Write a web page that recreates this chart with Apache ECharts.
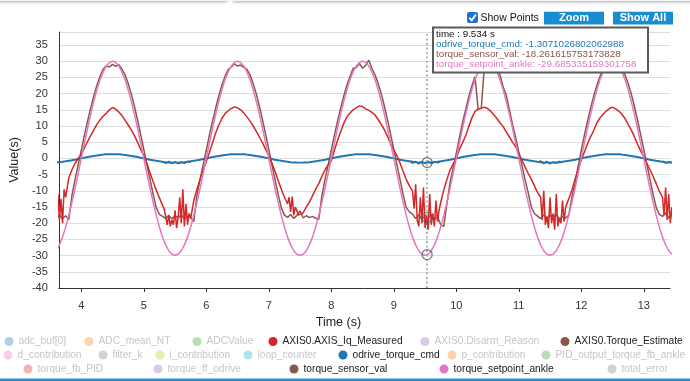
<!DOCTYPE html>
<html><head><meta charset="utf-8">
<script src="https://cdn.jsdelivr.net/npm/echarts/dist/echarts.min.js"></script>
<style>html,body{margin:0;padding:0;background:#fff}#c{width:690px;height:381px}</style>
</head><body><div id="c"></div><script>
// ---- data ----
const time = [3.6,3.65,3.7,3.75,3.8,3.85,3.9,3.95,
4,4.05,4.1,4.15,4.2,4.25,4.3,4.35,4.4,4.45,4.5,4.55,4.6,4.65,4.7,4.75,4.8,4.85,4.9,4.95,
5,5.05,5.1,5.15,5.2,5.25,5.3,5.35,5.4,5.45,5.5,5.55,5.6,5.65,5.7,5.75,5.8,5.85,5.9,5.95,
6,6.05,6.1,6.15,6.2,6.25,6.3,6.35,6.4,6.45,6.5,6.55,6.6,6.65,6.7,6.75,6.8,6.85,6.9,6.95,
7,7.05,7.1,7.15,7.2,7.25,7.3,7.35,7.4,7.45,7.5,7.55,7.6,7.65,7.7,7.75,7.8,7.85,7.9,7.95,
8,8.05,8.1,8.15,8.2,8.25,8.3,8.35,8.4,8.45,8.5,8.55,8.6,8.65,8.7,8.75,8.8,8.85,8.9,8.95,
9,9.05,9.1,9.15,9.2,9.25,9.3,9.35,9.4,9.45,9.5,9.55,9.6,9.65,9.7,9.75,9.8,9.85,9.9,9.95,
10,10.05,10.1,10.15,10.2,10.25,10.3,10.35,10.4,10.45,10.5,10.55,10.6,10.65,10.7,10.75,10.8,10.85,10.9,10.95,
11,11.05,11.1,11.15,11.2,11.25,11.3,11.35,11.4,11.45,11.5,11.55,11.6,11.65,11.7,11.75,11.8,11.85,11.9,11.95,
12,12.05,12.1,12.15,12.2,12.25,12.3,12.35,12.4,12.45,12.5,12.55,12.6,12.65,12.7,12.75,12.8,12.85,12.9,12.95,
13,13.05,13.1,13.15,13.2,13.25,13.3,13.35,13.4,13.45];

// AXIS0.AXIS_Iq_Measured has its own, denser sampling in the noisy troughs
const iqTime = [3.6,3.625,3.65,3.675,3.7,3.725,3.75,3.8,3.85,3.9,3.95,
4,4.05,4.1,4.15,4.2,4.25,4.3,4.35,4.4,4.45,4.5,4.55,4.6,4.65,4.7,4.75,4.8,4.85,4.9,4.95,5,5.05,5.1,5.15,5.2,5.25,5.3,
5.325,5.35,5.375,5.4,5.425,5.45,5.475,5.5,5.525,5.55,5.575,5.6,5.625,5.65,5.675,5.7,5.725,5.75,
5.8,5.85,5.9,5.95,
6,6.05,6.1,6.15,6.2,6.25,6.3,6.35,6.4,6.45,6.5,6.55,6.6,6.65,6.7,6.75,6.8,6.85,6.9,6.95,7,7.05,7.1,7.15,7.2,7.25,
7.3,7.325,7.35,7.375,7.4,7.425,7.45,7.475,7.5,
7.55,7.6,7.65,7.7,7.75,7.8,7.85,7.9,7.95,
8,8.05,8.1,8.15,8.2,8.25,8.3,8.35,8.4,8.45,8.5,8.55,8.6,8.65,8.7,8.75,8.8,8.85,8.9,8.95,9,9.05,9.1,9.15,9.2,9.25,9.3,
9.325,9.35,9.375,9.4,9.425,9.45,9.475,9.5,9.525,9.55,9.575,9.6,9.625,9.65,9.675,9.7,9.725,
9.75,9.8,9.85,9.9,9.95,
10,10.05,10.1,10.15,10.2,10.25,10.3,10.35,10.4,10.45,10.5,10.55,10.6,10.65,10.7,10.75,10.8,10.85,10.9,10.95,11,11.05,11.1,11.15,11.2,11.25,11.3,11.35,
11.375,11.4,11.425,11.45,11.475,11.5,11.525,11.55,11.575,11.6,11.625,11.65,11.675,11.7,11.725,
11.75,11.8,11.85,11.9,11.95,
12,12.05,12.1,12.15,12.2,12.25,12.3,12.35,12.4,12.45,12.5,12.55,12.6,12.65,12.7,12.75,12.8,12.85,12.9,12.95,13,13.05,13.1,13.15,13.2,13.25,13.3,
13.325,13.35,13.375,13.4,13.425,13.45];
const iqMeasured = [-18,-11,-19,-12.5,-20,-9.5,-12,-6,-3.5,-1.5,0,
1.2,3.2,5.2,7,8.8,10.5,11.9,13,13.9,15,15.7,15.2,14.3,13.2,11.8,10.3,8.8,7,5,2.8,0.8,-1.6,-4.5,-7.2,-9.8,-12.2,-14.5,
-15.5,-18,-20.5,-17.5,-21,-19,-20.5,-16,-21.5,-18,-12,-20,-9.5,-21,-14,-20.5,-17,-18.5,
-13,-9.5,-6.5,-3.5,
-1,1.8,4.8,7.8,10.3,12.3,13.8,14.7,15.4,15.9,15.6,15,14,12.8,11.5,10,8.3,6.6,4.8,2.8,0.8,-1.5,-4,-6.8,-9.5,-12,
-14,-12,-16.5,-11.8,-17.5,-15,-16.2,-17.5,-17.3,
-16.8,-15,-13.5,-11.5,-9.5,-7.8,-5.5,-3.5,-2,
-0.8,2.5,5.5,8.2,10.8,12.8,14,15,15.6,16.2,16,15.3,14.8,14.2,13.4,12,10.5,8.8,6.8,4.5,2.6,0.8,-1.4,-4,-6.5,-8.5,-10,
-15.5,-8,-19,-21,-12,-20,-9,-21.5,-18,-22,-11,-20.5,-17,-21,-13,-19.5,-16,
-13.7,-9.8,-6.5,-3.6,-1.8,
0,2.8,4.8,7,9.8,12.5,14.5,15.2,15.5,15.8,15.4,14.6,13.5,12.3,11,9.8,8.2,6.6,5,3.6,1.5,-0.5,-2.6,-4.6,-6.4,-8.5,-10.5,-12,
-19,-10,-20.5,-18,-21.5,-12,-20,-17,-22,-11,-21,-18.5,-20,-13,-19.5,
-15,-12.5,-9.8,-6.5,-3.5,
-0.5,2,4.5,6.7,8.6,11,12.5,13.6,14.6,15.4,15.8,15.3,14.6,13.6,12.3,10.5,8.8,6.7,4.4,2.3,0.5,-1.5,-3.5,-5.6,-7.8,-10.2,-12,
-17.5,-9,-19,-11,-20,-15];

const sensorVal = [-18.4,-17.6,-18.5,-17.7,-18.9,-11.5,-6.5,-2,
2.5,7.2,11.5,15.5,19.3,22.6,25.3,27.6,28.6,28.2, 29,28.4,28.9,27.5,25.8,23.1,19.9,16.1,11.9,7.4, 2.8,-1.9,-6.5,-11.1,-15.2,-17.3,-17.9,-18.5,-17.6,-18.6, -17.8,-18.3,-17.5,-18.6,-17.8,-18.2,-19.5,-11.5,-6.5,-2,
2.5,7.2,11.5,15.5,19.3,22.6,25.3,27.4,28.2,29.2, 28.5,28.8,28.1,27.5,25.8,23.1,19.9,16.1,11.9,7.4, 2.8,-1.9,-6.5,-11.1,-15.2,-17.5,-18.2,-17.3,-18.5,-17.6, -16.2,-18.4,-17.7,-18.3,-17.9,-18.5,-18.8,-11.5,-6.5,-2,
2.5,7.2,11.5,15.5,19.3,22.6,25.3,27.8,28,29.3, 27.8,28.7,30.3,27.8,25.8,23.1,19.9,16.1,11.9,7.4, 2.8,-1.9,-6.5,-11.1,-15.2,-16.5,-17.2,-18.6,-17.4,-18.9, -17.6,-18.4,-17.2,-18.8,-18,-20.5,-21,-14,-7.5,-3,
1.5,6.5,11,15,19,22.4,25.2,15.2,15.4,28.6, 28.9,28.3,28.6,27.4,25.8,22,19.5,15,10.5,6.5, 2,-1.9,-6.5,-10.5,-15,-17,-17.8,-18.6,-17.4,-18.5, -17.6,-18.2,-17.3,-18.7,-17.9,-18.4,-17.6,-12,-7.5,-2.5,
2.5,7.2,11.5,15.5,19.3,22.6,25.3,27.5,28.5,28.9, 28.4,28.8,28.3,27.5,25.8,23.1,19.9,16.1,11.9,7.4, 2.8,-1.9,-6.5,-11.1,-15.2,-17.3,-17.9,-16.8,-18.4,-17.5];

const setpointAnkle = [-28.5,-26.7,-24.3,-21.2,-17.6,-13.6,-9.3,-4.7,
0,4.7,9.3,13.6,17.6,21.2,24.3,26.7,28.5,29.6,30,29.6,28.5,26.7,24.3,21.2,17.6,13.6,9.3,4.7,0,-4.7,-9.3,-13.6,-17.6,-21.2,-24.3,-26.7,-28.5,-29.6,-29.9,-29.6,-28.5,-26.7,-24.3,-21.2,-17.6,-13.6,-9.3,-4.7,
0,4.7,9.3,13.6,17.6,21.2,24.3,26.7,28.5,29.6,30,29.6,28.5,26.7,24.3,21.2,17.6,13.6,9.3,4.7,0,-4.7,-9.3,-13.6,-17.6,-21.2,-24.3,-26.7,-28.5,-29.6,-29.9,-29.6,-28.5,-26.7,-24.3,-21.2,-17.6,-13.6,-9.3,-4.7,
0,4.7,9.3,13.6,17.6,21.2,24.3,26.7,28.5,29.6,30,29.6,28.5,26.7,24.3,21.2,17.6,13.6,9.3,4.7,0,-4.7,-9.3,-13.6,-17.6,-21.2,-24.3,-26.7,-28.5,-29.6,-29.9,-29.6,-28.5,-26.7,-24.3,-21.2,-17.6,-13.6,-9.3,-4.7,
0,4.7,9.3,13.6,17.6,21.2,24.3,26.7,28.5,29.6,30,29.6,28.5,26.7,24.3,21.2,17.6,13.6,9.3,4.7,0,-4.7,-9.3,-13.6,-17.6,-21.2,-24.3,-26.7,-28.5,-29.6,-29.9,-29.6,-28.5,-26.7,-24.3,-21.2,-17.6,-13.6,-9.3,-4.7,
0,4.7,9.3,13.6,17.6,21.2,24.3,26.7,28.5,29.6,30,29.6,28.5,26.7,24.3,21.2,17.6,13.6,9.3,4.7,0,-4.7,-9.3,-13.6,-17.6,-21.2,-24.3,-26.7,-28.5,-29.6];

const torqueCmd = [-1.24,-1.16,-1.05,-0.92,-0.76,-0.59,-0.4,-0.2,
0,0.2,0.4,0.59,0.76,0.92,1.05,1.16,1.24,1.28,1.3,1.28,1.24,1.16,1.05,0.92,0.76,0.59,0.4,0.2,0,-0.2,-0.4,-0.59,-0.76,-0.92,-1.05,-1.16,-1.24,-1.28,-1.31,-1.28,-1.24,-1.16,-1.05,-0.92,-0.76,-0.59,-0.4,-0.2,
0,0.2,0.4,0.59,0.76,0.92,1.05,1.16,1.24,1.28,1.3,1.28,1.24,1.16,1.05,0.92,0.76,0.59,0.4,0.2,0,-0.2,-0.4,-0.59,-0.76,-0.92,-1.05,-1.16,-1.24,-1.28,-1.31,-1.28,-1.24,-1.16,-1.05,-0.92,-0.76,-0.59,-0.4,-0.2,
0,0.2,0.4,0.59,0.76,0.92,1.05,1.16,1.24,1.28,1.3,1.28,1.24,1.16,1.05,0.92,0.76,0.59,0.4,0.2,0,-0.2,-0.4,-0.59,-0.76,-0.92,-1.05,-1.16,-1.24,-1.28,-1.31,-1.28,-1.24,-1.16,-1.05,-0.92,-0.76,-0.59,-0.4,-0.2,
0,0.2,0.4,0.59,0.76,0.92,1.05,1.16,1.24,1.28,1.3,1.28,1.24,1.16,1.05,0.92,0.76,0.59,0.4,0.2,0,-0.2,-0.4,-0.59,-0.76,-0.92,-1.05,-1.16,-1.24,-1.28,-1.31,-1.28,-1.24,-1.16,-1.05,-0.92,-0.76,-0.59,-0.4,-0.2,
0,0.2,0.4,0.59,0.76,0.92,1.05,1.16,1.24,1.28,1.3,1.28,1.24,1.16,1.05,0.92,0.76,0.59,0.4,0.2,0,-0.2,-0.4,-0.59,-0.76,-0.92,-1.05,-1.16,-1.24,-1.28];

const estTime = [5.3,5.35,5.4,5.45,5.5,5.55,5.6,5.65,5.7,5.75,5.8,
9.25,9.3,9.35,9.4,9.45,9.5,9.55,9.6,9.65,9.7,9.75,9.8,
11.3,11.35,11.4,11.45,11.5,11.55,11.6,11.65,11.7,11.75,
13.3,13.35,13.4,13.45];
const estVals = [-1.05,-1.5,-0.95,-1.6,-1.0,-1.65,-1.1,-1.5,-0.9,-1.3,null,
-0.8,-1.5,-0.9,-1.7,-1.0,-1.6,-0.85,-1.6,-1.0,-1.4,-0.9,null,
-1.2,-0.75,-1.6,-0.9,-1.7,-1.1,-1.5,-0.9,-1.35,null,
-0.8,-1.5,-1.0,-1.3];

const hoverTime = 9.534;
const hoverNames = ['odrive_torque_cmd', 'torque_sensor_val', 'torque_setpoint_ankle'];
const hoverVals = [-1.3071026802062988, -18.261615753173828, -29.685335159301758];

const legendNames = ['adc_buf[0]','ADC_mean_NT','ADCValue','AXIS0.AXIS_Iq_Measured','AXIS0.Disarm_Reason','AXIS0.Torque_Estimate',
'd_contribution','filter_k','i_contribution','loop_counter','odrive_torque_cmd','p_contribution','PID_output_torque_fb_ankle',
'torque_fb_PID','torque_ff_odrive','torque_sensor_val','torque_setpoint_ankle','total_error'];
const legendColors = ['#1f77b4','#ff7f0e','#2ca02c','#d62728','#9467bd','#8c564b','#e377c2','#7f7f7f','#bcbd22','#17becf',
'#1f77b4','#ff7f0e','#2ca02c','#d62728','#9467bd','#8c564b','#e377c2','#7f7f7f'];
const activeNames = ['AXIS0.AXIS_Iq_Measured','AXIS0.Torque_Estimate','odrive_torque_cmd','torque_sensor_val','torque_setpoint_ankle'];

// ---- layout ----
const FONT = 'Liberation Sans, Arial, sans-serif';
const legendPos = [[9,343],[89,343],[197,343],[273,343],[425,343],[565,343],
[8,356.5],[103,356.5],[160,356.5],[248,356.5],[343,356.5],[452,356.5],[546,356.5],
[28,370.5],[158,370.5],[294,370.5],[444,370.5],[612,370.5]];

const pairs = (xs, ys) => xs.map((x, i) => [x, ys[i] === null ? '-' : ys[i]]);
const seriesData = {
  'AXIS0.AXIS_Iq_Measured': pairs(iqTime, iqMeasured),
  'AXIS0.Torque_Estimate': pairs(estTime, estVals),
  'odrive_torque_cmd': pairs(time, torqueCmd),
  'torque_sensor_val': pairs(time, sensorVal),
  'torque_setpoint_ankle': pairs(time, setpointAnkle)
};
const zOf = {'AXIS0.Torque_Estimate':2,'odrive_torque_cmd':3,'torque_sensor_val':4,'AXIS0.AXIS_Iq_Measured':5,'torque_setpoint_ankle':6};
const widthOf = {'odrive_torque_cmd':2};

const series = legendNames.map((name, i) => ({
  name, type: 'line', color: legendColors[i],
  data: seriesData[name] || [],
  showSymbol: false, symbol: 'none', silent: true,
  z: zOf[name] || 2,
  lineStyle: {width: widthOf[name] || 1.5, color: legendColors[i]},
  emphasis: {disabled: true}
}));
series.push({
  name: 'hover', type: 'scatter', z: 10, silent: true,
  data: hoverVals.map(v => [hoverTime, v]),
  symbol: 'circle', symbolSize: 10,
  itemStyle: {color: 'rgba(255,255,255,0)', borderColor: '#45676b', borderWidth: 1.3},
  markLine: {
    symbol: 'none', silent: true, label: {show: false}, animation: false,
    lineStyle: {color: '#9a9a9a', type: [2, 2.5], width: 1.5},
    data: [{xAxis: hoverTime}]
  }
});

const legends = legendNames.map((name, i) => {
  const active = activeNames.includes(name);
  const [cx, cy] = legendPos[i];
  return {
    left: cx - 4.5, top: cy - 6.5, padding: 0, itemGap: 0,
    itemWidth: 9, itemHeight: 9, icon: 'circle', selectedMode: false,
    textStyle: {fontSize: 10.2, fontFamily: FONT, color: active ? '#1a1a1a' : '#c6c6c6'},
    data: [{name, itemStyle: {opacity: active ? 1 : 0.35}}]
  };
});

const tipColor = n => legendColors[legendNames.indexOf(n)];
const tipLines = [['time : ' + hoverTime + ' s', '#111']].concat(
  hoverNames.map((n, i) => [n + ': ' + hoverVals[i], tipColor(n)]));

const graphic = [
  {type: 'rect', z: 100, shape: {x: -2, y: -12, width: 229, height: 13}, style: {fill: '#f5f5f5', shadowBlur: 3, shadowOffsetY: 1, shadowColor: 'rgba(0,0,0,0.35)'}},
  {type: 'rect', z: 100, shape: {x: 233, y: -12, width: 470, height: 13}, style: {fill: '#f5f5f5', shadowBlur: 3, shadowOffsetY: 1, shadowColor: 'rgba(0,0,0,0.35)'}},
  {type: 'rect', z: 100, shape: {x: 467, y: 12, width: 11, height: 11, r: 2}, style: {fill: '#1a6fd8'}},
  {type: 'polyline', z: 101, shape: {points: [[469.3, 17.6], [471.7, 20.3], [476, 14.4]]}, style: {stroke: '#fff', lineWidth: 1.8, fill: null}},
  {type: 'text', z: 100, x: 480.5, y: 18, style: {text: 'Show Points', fill: '#111', fontSize: 10.5, fontFamily: FONT, verticalAlign: 'middle'}},
  {type: 'rect', z: 100, shape: {x: 544, y: 11.7, width: 60, height: 12.7}, style: {fill: '#1a8dd2'}},
  {type: 'text', z: 101, x: 574, y: 18.2, style: {text: 'Zoom', fill: '#fff', fontSize: 11, fontWeight: 'bold', fontFamily: FONT, align: 'center', verticalAlign: 'middle'}},
  {type: 'rect', z: 100, shape: {x: 613, y: 11.7, width: 60, height: 12.7}, style: {fill: '#1a8dd2'}},
  {type: 'text', z: 101, x: 643, y: 18.2, style: {text: 'Show All', fill: '#fff', fontSize: 11, fontWeight: 'bold', fontFamily: FONT, align: 'center', verticalAlign: 'middle'}},
  {type: 'rect', z: 100, shape: {x: 433, y: 27.5, width: 215, height: 45}, style: {fill: '#fff', stroke: '#5a5a5a', lineWidth: 2}},
  {type: 'rect', z: 100, shape: {x: 0, y: 378.5, width: 690, height: 3}, style: {fill: '#2a8fd3'}}
].concat(tipLines.map((l, i) => ({
  type: 'text', z: 102, x: 436, y: 34.3 + i * 10.1,
  style: {text: l[0], fill: l[1], fontSize: 9.8, fontFamily: FONT, verticalAlign: 'middle'}
})));

const chart = echarts.init(document.getElementById('c'), null, {renderer: 'canvas'});
chart.setOption({
  animation: false,
  backgroundColor: '#fff',
  textStyle: {fontFamily: FONT},
  grid: {left: 48, right: 20, top: 32, bottom: 93, containLabel: false},
  legend: legends,
  xAxis: {
    type: 'value', min: 3.64, max: 13.42, splitNumber: 10,
    axisLine: {show: true, onZero: false, lineStyle: {color: '#333', width: 1}},
    axisTick: {show: true, length: 4, lineStyle: {color: '#333'}},
    axisLabel: {fontSize: 11, color: '#333', margin: 12, showMinLabel: false, showMaxLabel: false,
      formatter: v => (Math.abs(v - Math.round(v)) < 1e-9 ? String(Math.round(v)) : '')},
    splitLine: {show: false},
    name: 'Time (s)', nameLocation: 'middle', nameGap: 26,
    nameTextStyle: {fontSize: 12.5, color: '#222', padding: [0, 52, 0, 0]}
  },
  yAxis: {
    type: 'value', min: -40, max: 39, interval: 5,
    axisLine: {show: true, onZero: false, lineStyle: {color: '#333', width: 1}},
    axisTick: {show: false},
    axisLabel: {fontSize: 11, color: '#333', margin: 11,
      formatter: v => (v % 5 === 0 ? String(v) : '')},
    splitLine: {show: true, lineStyle: {color: '#dedede', width: 1}},
    name: 'Value(s)', nameLocation: 'middle', nameGap: 33,
    nameTextStyle: {fontSize: 12.5, color: '#222'}
  },
  series,
  graphic
});
</script></body></html>
